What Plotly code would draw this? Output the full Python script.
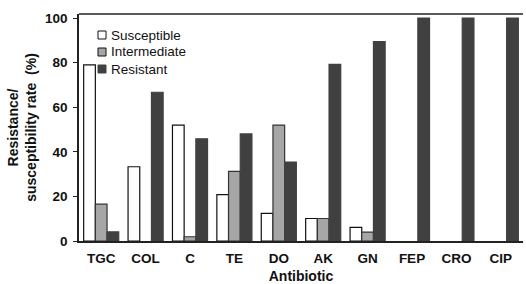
import plotly.graph_objects as go

categories = ["TGC", "COL", "C", "TE", "DO", "AK", "GN", "FEP", "CRO", "CIP"]
susceptible = [79, 33.3, 52, 20.8, 12.4, 10.1, 6.1, 0, 0, 0]
intermediate = [16.5, 0, 1.9, 31.2, 52, 10.1, 4, 0, 0, 0]
resistant = [4.1, 66.7, 45.8, 48, 35.4, 79.2, 89.4, 100, 100, 100]
y_ticks = [0, 20, 40, 60, 80, 100]
series_names = ["Susceptible", "Intermediate", "Resistant"]

font_family = "Liberation Sans, Arial, sans-serif"
fills = ["white", "#a6a6a6", "#404040"]
edges = ["#111111", "#333333", "#404040"]

W, H = 526, 284
L, R, T, B = 79, 3, 14, 43

fig = go.Figure()
for name, vals, fc, ec in zip(series_names, [susceptible, intermediate, resistant], fills, edges):
    lw = [0 if v == 0 else 1.2 for v in vals]
    fig.add_trace(go.Bar(name=name, x=categories, y=vals, showlegend=False, hoverinfo="skip",
                         marker=dict(color=fc, line=dict(color=ec, width=lw))))

fig.update_layout(
    width=W, height=H,
    margin=dict(l=L, r=R, t=T, b=B, autoexpand=False),
    paper_bgcolor="white", plot_bgcolor="white",
    barmode="group", bargap=0.21, bargroupgap=0,
    font=dict(family=font_family, color="#111111", size=13),
)
fig.update_xaxes(
    showline=True, linecolor="#222222", linewidth=1.5,
    ticks="outside", ticklen=4, tickcolor="rgba(0,0,0,0)", showgrid=False, automargin=False,
    tickfont=dict(size=13.5, family=font_family, weight="bold"),
    title=dict(text="<b>Antibiotic</b>", font=dict(size=14), standoff=9),
)
fig.update_yaxes(
    range=[0, 101.8], tickvals=y_ticks, automargin=False,
    showline=True, linecolor="#222222", linewidth=1.5,
    ticks="outside", ticklen=4, tickcolor="#222222", showgrid=False, zeroline=False,
    ticklabelstandoff=3,
    tickfont=dict(size=13.5, family=font_family, weight="bold"),
    title=dict(text="<b>Resistance/<br>susceptibility rate  (%)</b>", font=dict(size=14), standoff=5),
)
fig.add_shape(type="line", xref="paper", yref="paper", x0=0, x1=1, y0=1, y1=1,
              line=dict(color="#222222", width=1.5))

# custom legend (pixel positions converted to paper coords)
pw, ph = W - L - R, H - T - B
def px(x):
    return (x - L) / pw
def py(y):
    return (H - B - y) / ph
for i, (name, fc, ec) in enumerate(zip(series_names, fills, edges)):
    yc = 35 + 17 * i
    fig.add_shape(type="rect", xref="paper", yref="paper",
                  x0=px(98), x1=px(106), y0=py(yc + 4), y1=py(yc - 4),
                  fillcolor=fc, line=dict(color="#111111" if i < 2 else ec, width=1))
    fig.add_annotation(xref="paper", yref="paper", x=px(108.5), y=py(yc),
                       xanchor="left", yanchor="middle", text=name, showarrow=False,
                       font=dict(size=13.5, family=font_family, color="#111111"))

fig.write_html("out.html", config={"displayModeBar": False},
               post_script="document.body.style.margin='0';")
